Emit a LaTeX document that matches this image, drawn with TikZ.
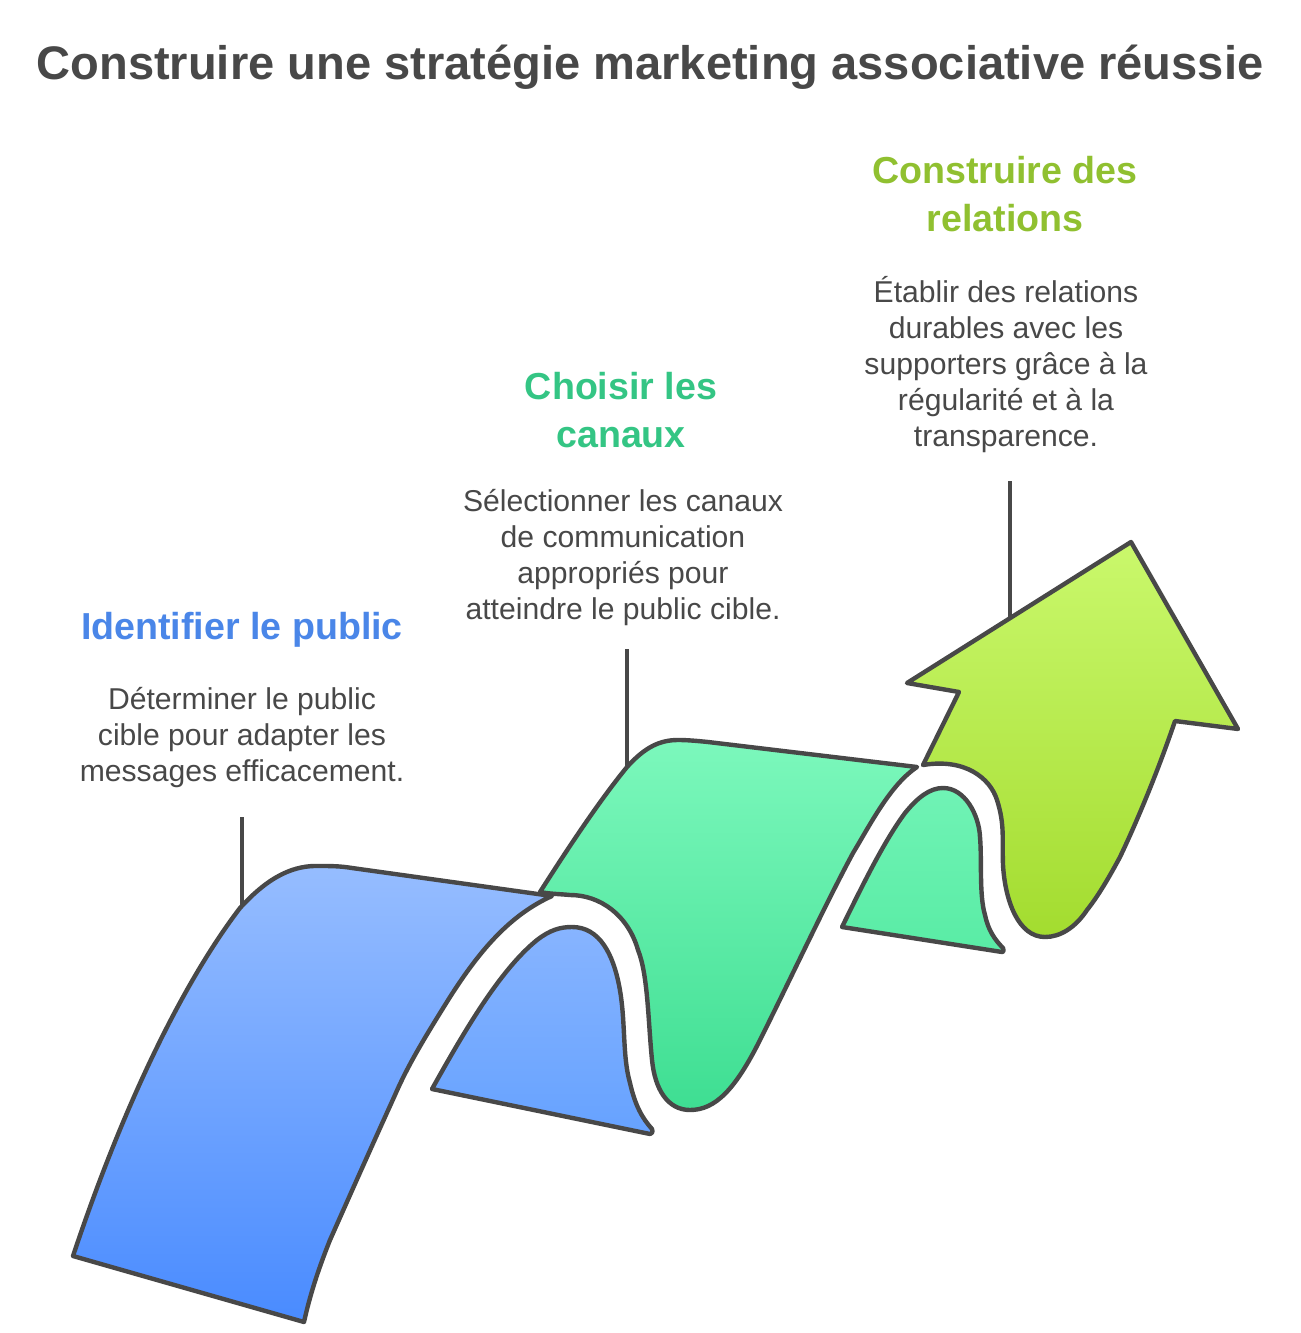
\documentclass[tikz,border=0pt]{standalone}
\usepackage{fontspec}
\setmainfont{Liberation Sans}
\usepackage{xcolor}
\definecolor{inkgrey}{HTML}{484848}
\definecolor{headblue}{HTML}{4A86E8}
\definecolor{headgreen}{HTML}{34C584}
\definecolor{headlime}{HTML}{90C030}
\tikzset{
  ribbon/.style={draw=inkgrey, line width=3.3pt, line join=round},
  leader/.style={draw=inkgrey, line width=3.3pt},
  maintitle/.style={font=\fontsize{35.3}{42}\selectfont\bfseries, text=inkgrey, inner sep=0pt},
  stephead/.style={font=\fontsize{28.2}{36}\selectfont\bfseries, align=center, inner sep=0pt},
  stepbody/.style={font=\fontsize{22.6}{27}\selectfont, text=inkgrey, align=center, inner sep=0pt},
}

\begin{document}
\begin{tikzpicture}[x=0.75pt, y=-0.75pt]
  \useasboundingbox (0,0) rectangle (1300,1333);

  \node[maintitle] (title) at (650,67) {Construire une stratégie marketing associative réussie};

  \node[stephead, text=headblue] (publichead) at (242,630) {Identifier le public};
  \node[stepbody] (publicbody) at (242,737.5) {Déterminer le public\\cible pour adapter les\\messages efficacement.};
  \node[stephead, text=headgreen] (canauxhead) at (621,410) {Choisir les\\canaux};
  \node[stepbody] (canauxbody) at (623,557.5) {Sélectionner les canaux\\de communication\\appropriés pour\\atteindre le public cible.};
  \node[stephead, text=headlime] (relationshead) at (1005,194) {Construire des\\relations};
  \node[stepbody] (relationsbody) at (1006,364.5) {Établir des relations\\durables avec les\\supporters grâce à la\\régularité et à la\\transparence.};

  \coordinate (publictop) at (242,817);
  \coordinate (publicfoot) at (242,908);
  \coordinate (canauxtop) at (627,649);
  \coordinate (canauxfoot) at (627,767);
  \coordinate (relationstop) at (1010,481);
  \coordinate (relationsfoot) at (1010,620);
  \draw[leader] (publictop) -- (publicfoot);
  \draw[leader] (canauxtop) -- (canauxfoot);
  \draw[leader] (relationstop) -- (relationsfoot);

  % blue ribbon
  \draw[ribbon, top color={rgb,255:red,150;green,189;blue,255}, bottom color={rgb,255:red,73;green,139;blue,255}]
    (73,1256) .. controls (125,1100) and (185,980) .. (240,908)
    .. controls (270,875) and (295,865) .. (320,866)
    .. controls (330,866) and (340,866) .. (352,868)
    -- (552,896)
    .. controls (510,915) and (480,950) .. (450,997)
    .. controls (425,1037) and (408,1065) .. (395,1095)
    .. controls (370,1150) and (350,1195) .. (330,1240)
    .. controls (318,1270) and (310,1295) .. (304,1322) -- cycle;
  \draw[ribbon, top color={rgb,255:red,135;green,180;blue,255}, bottom color={rgb,255:red,102;green,162;blue,255}]
    (432,1089) .. controls (465,1030) and (500,970) .. (537,940)
    .. controls (550,930) and (560,927) .. (572,927)
    .. controls (600,927) and (613,955) .. (619,985)
    .. controls (626,1020) and (622,1055) .. (630,1083)
    .. controls (635,1105) and (642,1118) .. (652,1129)
    .. controls (653,1132) and (652,1134) .. (650,1134) -- cycle;

  % green ribbon
  \draw[ribbon, top color={rgb,255:red,124;green,248;blue,188}, bottom color={rgb,255:red,62;green,222;blue,146}]
    (540,892) .. controls (570,845) and (600,800) .. (627,767)
    .. controls (645,747) and (660,740) .. (678,740)
    .. controls (688,740) and (698,741) .. (708,742)
    -- (917,767)
    .. controls (890,785) and (870,825) .. (853,853)
    .. controls (825,905) and (790,980) .. (760,1040)
    .. controls (735,1090) and (715,1110) .. (690,1110)
    .. controls (668,1110) and (655,1090) .. (652,1060)
    .. controls (648,1020) and (648,975) .. (638,950)
    .. controls (628,915) and (600,895) .. (570,895)
    .. controls (560,894) and (550,894) .. (540,892) -- cycle;
  \draw[ribbon, top color={rgb,255:red,112;green,243;blue,181}, bottom color={rgb,255:red,89;green,236;blue,165}]
    (842,927) .. controls (865,880) and (885,840) .. (905,813)
    .. controls (918,797) and (930,788) .. (943,788)
    .. controls (965,788) and (979,815) .. (980,837)
    .. controls (982,860) and (979,895) .. (985,915)
    .. controls (988,930) and (995,940) .. (1003,948)
    .. controls (1004,951) and (1003,953) .. (1002,952) -- cycle;

  % lime arrow
  \draw[ribbon, top color={rgb,255:red,202;green,248;blue,108}, bottom color={rgb,255:red,163;green,220;blue,47}]
    (923,765) -- (959,692) -- (907,683) -- (1131,542) -- (1238,729) -- (1175,721)
    .. controls (1160,765) and (1140,815) .. (1120,857)
    .. controls (1105,885) and (1095,900) .. (1087,910)
    .. controls (1075,928) and (1060,937) .. (1045,937)
    .. controls (1018,937) and (1005,900) .. (1003,865)
    .. controls (1002,840) and (1005,825) .. (997,800)
    .. controls (990,778) and (965,758) .. (923,765) -- cycle;
\end{tikzpicture}
\end{document}
